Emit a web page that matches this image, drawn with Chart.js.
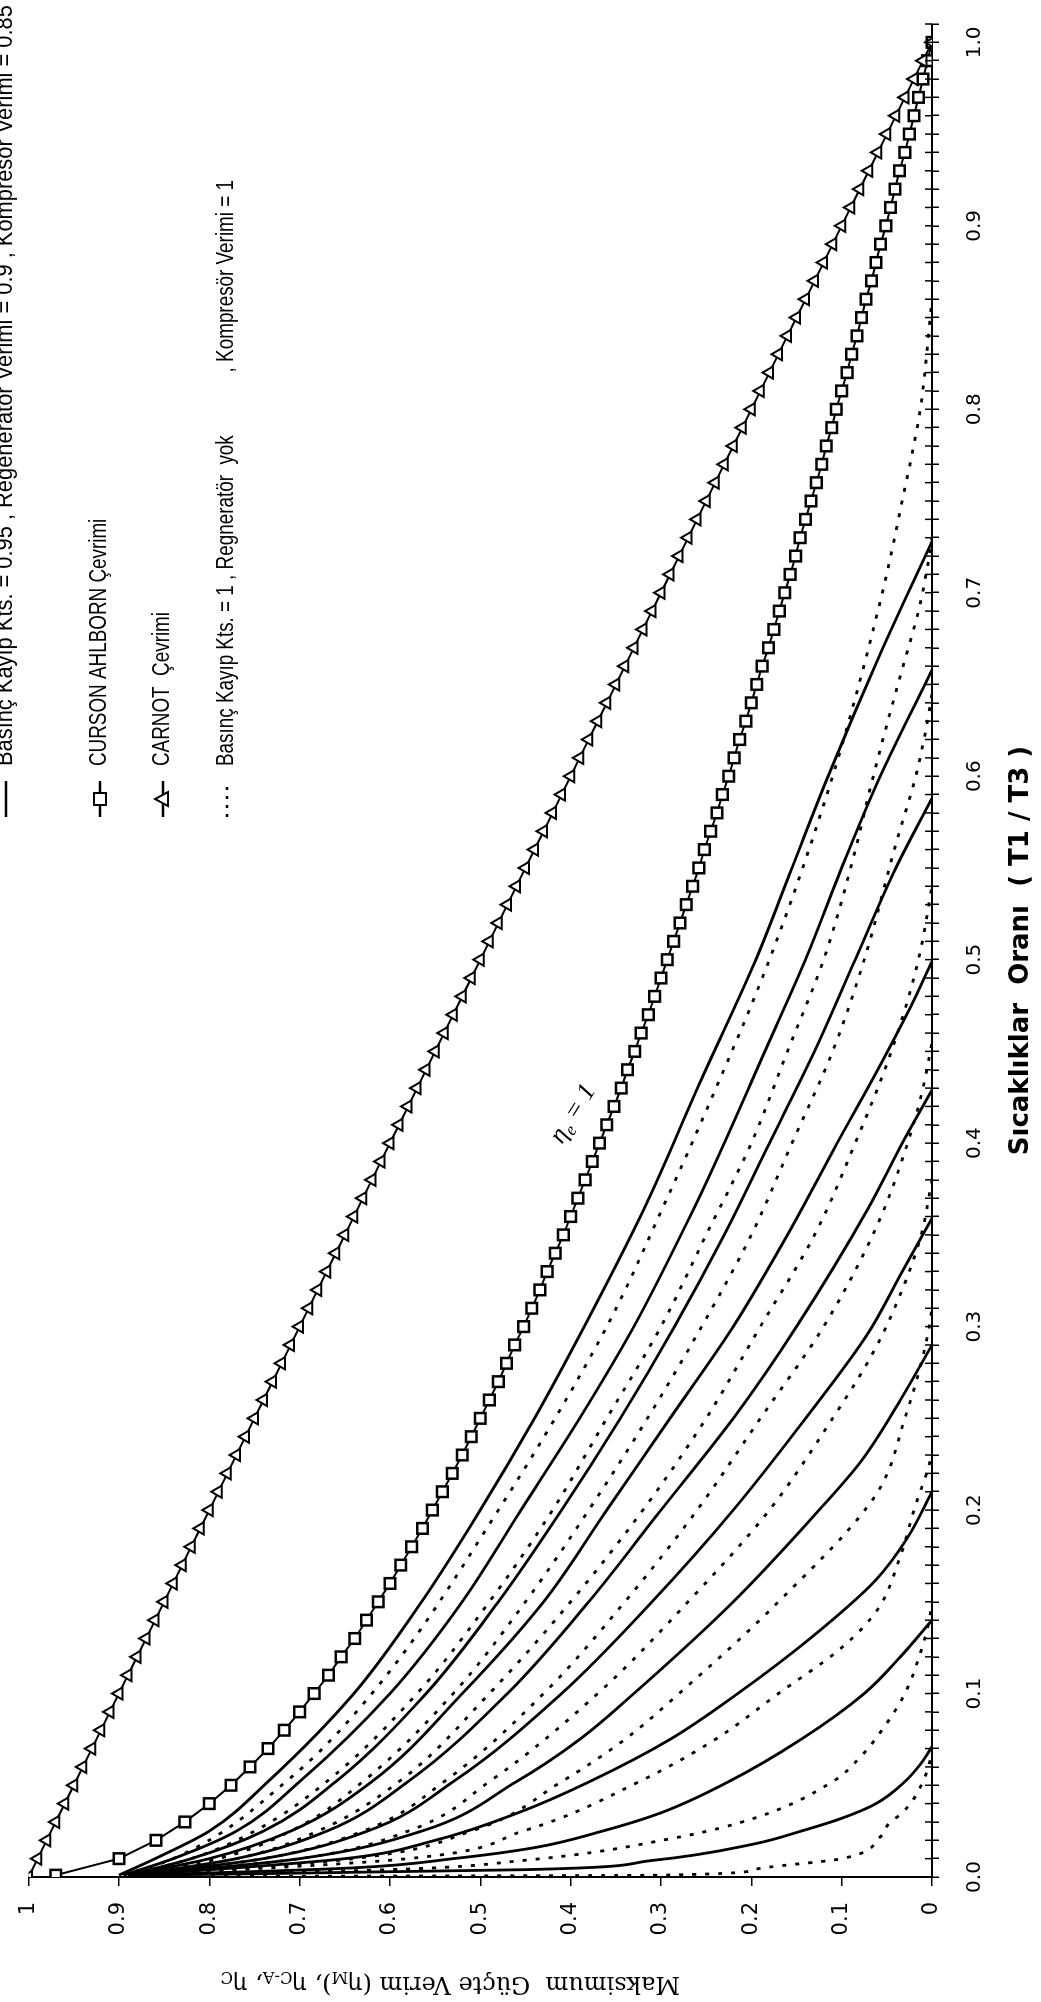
<!DOCTYPE html>
<html>
<head>
<meta charset="utf-8">
<script src="https://cdn.jsdelivr.net/npm/chart.js@4.4.0/dist/chart.umd.min.js"></script>
<style>
html, body { margin: 0; padding: 0; background: #fff; }
body { width: 1041px; height: 2002px; overflow: hidden; position: relative; }
/* the printed page is turned a quarter turn, so the chart is drawn flat and rotated */
#wrap { position: absolute; left: 0; top: 0; width: 2002px; height: 1041px;
        transform-origin: 0 0; transform: translateY(2002px) rotate(-90deg); }
</style>
</head>
<body>
<div id="wrap"><canvas id="verimChart" width="2002" height="1041"></canvas></div>
<script>
"use strict"

// T1/T3 values where the marker series are plotted
const markerRatio = [0.001, 0.01, 0.02, 0.03, 0.04, 0.05, 0.06, 0.07, 0.08, 0.09,
    0.10, 0.11, 0.12, 0.13, 0.14, 0.15, 0.16, 0.17, 0.18, 0.19,
    0.20, 0.21, 0.22, 0.23, 0.24, 0.25, 0.26, 0.27, 0.28, 0.29,
    0.30, 0.31, 0.32, 0.33, 0.34, 0.35, 0.36, 0.37, 0.38, 0.39,
    0.40, 0.41, 0.42, 0.43, 0.44, 0.45, 0.46, 0.47, 0.48, 0.49,
    0.50, 0.51, 0.52, 0.53, 0.54, 0.55, 0.56, 0.57, 0.58, 0.59,
    0.60, 0.61, 0.62, 0.63, 0.64, 0.65, 0.66, 0.67, 0.68, 0.69,
    0.70, 0.71, 0.72, 0.73, 0.74, 0.75, 0.76, 0.77, 0.78, 0.79,
    0.80, 0.81, 0.82, 0.83, 0.84, 0.85, 0.86, 0.87, 0.88, 0.89,
    0.90, 0.91, 0.92, 0.93, 0.94, 0.95, 0.96, 0.97, 0.98, 0.99, 1.00];

const carnotEff = [1.00, 0.99, 0.98, 0.97, 0.96, 0.95, 0.94, 0.93, 0.92, 0.91,
    0.90, 0.89, 0.88, 0.87, 0.86, 0.85, 0.84, 0.83, 0.82, 0.81,
    0.80, 0.79, 0.78, 0.77, 0.76, 0.75, 0.74, 0.73, 0.72, 0.71,
    0.70, 0.69, 0.68, 0.67, 0.66, 0.65, 0.64, 0.63, 0.62, 0.61,
    0.60, 0.59, 0.58, 0.57, 0.56, 0.55, 0.54, 0.53, 0.52, 0.51,
    0.50, 0.49, 0.48, 0.47, 0.46, 0.45, 0.44, 0.43, 0.42, 0.41,
    0.40, 0.39, 0.38, 0.37, 0.36, 0.35, 0.34, 0.33, 0.32, 0.31,
    0.30, 0.29, 0.28, 0.27, 0.26, 0.25, 0.24, 0.23, 0.22, 0.21,
    0.20, 0.19, 0.18, 0.17, 0.16, 0.15, 0.14, 0.13, 0.12, 0.11,
    0.10, 0.09, 0.08, 0.07, 0.06, 0.05, 0.04, 0.03, 0.02, 0.01, 0.00];

const cursonEff = [0.970, 0.900, 0.859, 0.827, 0.800, 0.776, 0.755, 0.735, 0.717, 0.700,
    0.684, 0.668, 0.654, 0.639, 0.626, 0.613, 0.600, 0.588, 0.576, 0.564,
    0.553, 0.542, 0.531, 0.520, 0.510, 0.500, 0.490, 0.480, 0.471, 0.462,
    0.452, 0.443, 0.434, 0.426, 0.417, 0.408, 0.400, 0.392, 0.384, 0.376,
    0.368, 0.360, 0.352, 0.344, 0.337, 0.329, 0.322, 0.314, 0.307, 0.300,
    0.293, 0.286, 0.279, 0.272, 0.265, 0.258, 0.252, 0.245, 0.238, 0.232,
    0.225, 0.219, 0.213, 0.206, 0.200, 0.194, 0.188, 0.181, 0.175, 0.169,
    0.163, 0.157, 0.151, 0.146, 0.140, 0.134, 0.128, 0.122, 0.117, 0.111,
    0.106, 0.100, 0.094, 0.089, 0.083, 0.078, 0.073, 0.067, 0.062, 0.057,
    0.051, 0.046, 0.041, 0.036, 0.030, 0.025, 0.020, 0.015, 0.010, 0.005, 0.000];

// solid curves (with losses): [T1/T3, efficiency] pairs
const solidCurves = [
    [[0.001, 0.87], [0.004, 0.45], [0.009, 0.31], [0.018, 0.197], [0.025, 0.145], [0.032, 0.10], [0.04, 0.062], [0.052, 0.03], [0.062, 0.012], [0.071, 0]],
    [[0.001, 0.875], [0.005, 0.64], [0.01, 0.53], [0.016, 0.44], [0.025, 0.365], [0.035, 0.3], [0.052, 0.225], [0.075, 0.145], [0.1, 0.075], [0.12, 0.035], [0.14, 0]],
    [[0.001, 0.88], [0.01, 0.65], [0.02, 0.55], [0.036, 0.453], [0.052, 0.379], [0.075, 0.29], [0.1, 0.215], [0.13, 0.135], [0.162, 0.062], [0.185, 0.027], [0.21, 0]],
    [[0.001, 0.88], [0.01, 0.7], [0.025, 0.565], [0.052, 0.46], [0.075, 0.39], [0.1, 0.33], [0.15, 0.22], [0.2, 0.125], [0.227, 0.078], [0.26, 0.035], [0.29, 0]],
    [[0.001, 0.885], [0.01, 0.74], [0.025, 0.625], [0.052, 0.53], [0.1, 0.41], [0.15, 0.31], [0.2, 0.22], [0.25, 0.14], [0.297, 0.07], [0.33, 0.033], [0.359, 0]],
    [[0.001, 0.885], [0.01, 0.77], [0.025, 0.67], [0.052, 0.58], [0.1, 0.47], [0.15, 0.38], [0.2, 0.3], [0.25, 0.22], [0.3, 0.15], [0.365, 0.07], [0.4, 0.033], [0.429, 0]],
    [[0.001, 0.89], [0.01, 0.8], [0.025, 0.71], [0.052, 0.62], [0.1, 0.52], [0.15, 0.43], [0.2, 0.36], [0.25, 0.29], [0.3, 0.22], [0.35, 0.16], [0.4, 0.105], [0.44, 0.06], [0.473, 0.025], [0.499, 0]],
    [[0.001, 0.89], [0.01, 0.82], [0.025, 0.74], [0.052, 0.66], [0.1, 0.56], [0.15, 0.48], [0.2, 0.41], [0.25, 0.345], [0.3, 0.285], [0.35, 0.23], [0.4, 0.18], [0.45, 0.13], [0.5, 0.085], [0.55, 0.04], [0.588, 0]],
    [[0.001, 0.895], [0.01, 0.84], [0.025, 0.77], [0.052, 0.7], [0.1, 0.6], [0.15, 0.52], [0.2, 0.455], [0.25, 0.39], [0.3, 0.33], [0.365, 0.263], [0.4, 0.23], [0.45, 0.185], [0.5, 0.14], [0.55, 0.1], [0.597, 0.06], [0.658, 0]],
    [[0.001, 0.9], [0.01, 0.86], [0.025, 0.8], [0.052, 0.735], [0.1, 0.64], [0.15, 0.565], [0.2, 0.5], [0.25, 0.44], [0.3, 0.385], [0.365, 0.318], [0.435, 0.255], [0.5, 0.195], [0.55, 0.155], [0.6, 0.115], [0.667, 0.057], [0.728, 0]]
];

// dotted curves (no pressure loss, no regenerator, ideal compressor)
const dottedCurves = [
    [[0.0002, 0.87], [0.001, 0.30], [0.004, 0.197], [0.01, 0.10], [0.022, 0.057], [0.029, 0.048], [0.035, 0.033], [0.042, 0.021], [0.052, 0.010], [0.06, 0.004], [0.068, 0]],
    [[0.001, 0.87], [0.004, 0.6], [0.009, 0.453], [0.021, 0.288], [0.032, 0.197], [0.052, 0.11], [0.065, 0.08], [0.079, 0.057], [0.1, 0.03], [0.122, 0.013], [0.14, 0.003], [0.15, 0]],
    [[0.001, 0.875], [0.01, 0.58], [0.025, 0.453], [0.052, 0.324], [0.075, 0.24], [0.1, 0.17], [0.125, 0.1], [0.146, 0.06], [0.175, 0.035], [0.203, 0.018], [0.22, 0.006], [0.23, 0]],
    [[0.001, 0.875], [0.01, 0.64], [0.025, 0.51], [0.052, 0.41], [0.075, 0.34], [0.1, 0.28], [0.15, 0.17], [0.21, 0.06], [0.25, 0.03], [0.28, 0.012], [0.3, 0.003], [0.31, 0]],
    [[0.001, 0.88], [0.01, 0.7], [0.025, 0.58], [0.052, 0.49], [0.1, 0.37], [0.15, 0.27], [0.2, 0.18], [0.25, 0.11], [0.286, 0.065], [0.32, 0.033], [0.35, 0.012], [0.38, 0]],
    [[0.001, 0.88], [0.01, 0.74], [0.025, 0.63], [0.052, 0.54], [0.1, 0.43], [0.15, 0.34], [0.2, 0.26], [0.25, 0.19], [0.3, 0.12], [0.356, 0.06], [0.4, 0.027], [0.43, 0.01], [0.455, 0]],
    [[0.001, 0.885], [0.01, 0.77], [0.025, 0.68], [0.052, 0.59], [0.1, 0.49], [0.15, 0.4], [0.2, 0.32], [0.25, 0.25], [0.3, 0.19], [0.35, 0.13], [0.4, 0.085], [0.45, 0.045], [0.5, 0.015], [0.54, 0]],
    [[0.001, 0.885], [0.01, 0.79], [0.025, 0.71], [0.052, 0.63], [0.1, 0.53], [0.15, 0.45], [0.2, 0.38], [0.25, 0.315], [0.3, 0.255], [0.35, 0.2], [0.4, 0.155], [0.45, 0.11], [0.5, 0.075], [0.563, 0.04], [0.6, 0.018], [0.63, 0.005], [0.645, 0]],
    [[0.001, 0.89], [0.01, 0.82], [0.025, 0.75], [0.052, 0.67], [0.1, 0.57], [0.15, 0.49], [0.2, 0.42], [0.25, 0.36], [0.3, 0.3], [0.35, 0.25], [0.4, 0.2], [0.45, 0.16], [0.5, 0.12], [0.55, 0.09], [0.6, 0.065], [0.628, 0.05], [0.66, 0.032], [0.69, 0.015], [0.72, 0.003], [0.73, 0]],
    [[0.001, 0.895], [0.01, 0.84], [0.052, 0.715], [0.1, 0.62], [0.2, 0.48], [0.3, 0.36], [0.367, 0.296], [0.412, 0.255], [0.5, 0.18], [0.6, 0.11], [0.7, 0.055], [0.75, 0.033], [0.8, 0.013], [0.85, 0.002], [0.86, 0]]
];

const effTicks = [0, 0.1, 0.2, 0.3, 0.4, 0.5, 0.6, 0.7, 0.8, 0.9, 1];
const effLabels = ["0", "0.1", "0.2", "0.3", "0.4", "0.5", "0.6", "0.7", "0.8", "0.9", "1"];
const ratioLabels = ["0.0", "0.1", "0.2", "0.3", "0.4", "0.5", "0.6", "0.7", "0.8", "0.9", "1.0"];

const legendLines = [
    "Basınç Kayıp Kts. = 0.95 , Regeneratör Verimi = 0.9 , Kompresör Verimi = 0.85",
    "CURSON AHLBORN Çevrimi",
    "CARNOT  Çevrimi",
    "Basınç Kayıp Kts. = 1 , Regneratör  yok            , Kompresör Verimi = 1"
];

const toPoints = (pairs) => pairs.map(p => ({x: p[0], y: p[1]}));

const datasets = [
    {
        label: "CARNOT Çevrimi",
        data: markerRatio.map((r, i) => ({x: i === 0 ? 0 : r, y: carnotEff[i]})),
        showLine: true,
        borderColor: "#000000",
        borderWidth: 2,
        pointStyle: "triangle",
        pointRadius: 7,
        pointBorderWidth: 2,
        pointBackgroundColor: "#ffffff",
        pointBorderColor: "#000000"
    },
    {
        label: "CURSON AHLBORN Çevrimi",
        data: markerRatio.map((r, i) => ({x: r, y: cursonEff[i]})),
        showLine: true,
        borderColor: "#000000",
        borderWidth: 2,
        pointStyle: "rect",
        pointRadius: 7.5,
        pointBorderWidth: 2.5,
        pointBackgroundColor: "#ffffff",
        pointBorderColor: "#000000"
    }
];

solidCurves.forEach((c, i) => {
    datasets.push({
        label: "solid " + (i + 1),
        data: toPoints(c),
        showLine: true,
        cubicInterpolationMode: "monotone",
        borderColor: "#000000",
        borderWidth: 2.8,
        pointRadius: 0
    });
});

dottedCurves.forEach((c, i) => {
    datasets.push({
        label: "dotted " + (i + 1),
        data: toPoints(c),
        showLine: true,
        cubicInterpolationMode: "monotone",
        borderColor: "#000000",
        borderWidth: 2.8,
        borderDash: [4, 9],
        pointRadius: 0
    });
});

// the ratio axis has crossing ticks, chart.js only draws the outer half
const innerTicks = {
    id: "innerTicks",
    afterDatasetsDraw(chart) {
        const ctx = chart.ctx;
        const xs = chart.scales.x;
        ctx.save();
        ctx.strokeStyle = "#000";
        ctx.lineWidth = 1.5;
        xs.ticks.forEach(t => {
            const px = xs.getPixelForValue(t.value);
            ctx.beginPath();
            ctx.moveTo(px, xs.top);
            ctx.lineTo(px, xs.top - 7);
            ctx.stroke();
        });
        ctx.restore();
    }
};

function drawPieces(ctx, pieces, size, family, style) {
    // measures then draws text with subscripts, centered on 0,0
    let total = 0;
    pieces.forEach(p => {
        ctx.font = style + " " + (p.sub ? size * 0.68 : size) + "px " + family;
        p.w = ctx.measureText(p.t).width;
        total += p.w;
    });
    let x = -total / 2;
    pieces.forEach(p => {
        ctx.font = style + " " + (p.sub ? size * 0.68 : size) + "px " + family;
        ctx.fillText(p.t, x, p.sub ? size * 0.28 : 0);
        x += p.w;
    });
}

const textLayer = {
    id: "textLayer",
    afterDraw(chart) {
        const ctx = chart.ctx;
        const xs = chart.scales.x;
        const ys = chart.scales.y;
        ctx.save();
        ctx.fillStyle = "#000";
        ctx.textBaseline = "middle";
        ctx.textAlign = "left";

        // y axis title, set sideways with subscripts
        ctx.save();
        ctx.translate(19, (ys.top + ys.bottom) / 2 - 30);
        ctx.rotate(-Math.PI / 2);
        drawPieces(ctx, [
            {t: "Maksimum  Güçte Verim (η"}, {t: "M", sub: true}, {t: "), η"},
            {t: "C-A", sub: true}, {t: ", η"}, {t: "C", sub: true}
        ], 24, "'DejaVu Serif', serif", "");
        ctx.restore();

        // eta_e = 1 note next to the Curzon-Ahlborn curve
        ctx.save();
        ctx.translate(xs.getPixelForValue(0.416), ys.getPixelForValue(0.397));
        ctx.rotate(0.56);
        drawPieces(ctx, [{t: "η"}, {t: "e", sub: true}, {t: " = 1"}], 26, "'Liberation Serif', serif", "italic");
        ctx.restore();

        // legend block in the empty upper right corner
        const lx = 1185, tx = 1236;
        const rows = [6, 100, 163, 227];
        ctx.strokeStyle = "#000";
        rows.forEach((v, i) => {
            ctx.lineWidth = 2.5;
            ctx.setLineDash(i === 3 ? [3, 6] : []);
            ctx.beginPath();
            ctx.moveTo(lx, v);
            ctx.lineTo(lx + 36, v);
            ctx.stroke();
            ctx.setLineDash([]);
            if (i === 1) {
                ctx.fillStyle = "#fff";
                ctx.fillRect(lx + 12, v - 6, 12, 12);
                ctx.lineWidth = 2;
                ctx.strokeRect(lx + 12, v - 6, 12, 12);
            }
            if (i === 2) {
                ctx.fillStyle = "#fff";
                ctx.beginPath();
                ctx.moveTo(lx + 18, v - 8);
                ctx.lineTo(lx + 25, v + 5);
                ctx.lineTo(lx + 11, v + 5);
                ctx.closePath();
                ctx.fill();
                ctx.lineWidth = 2;
                ctx.stroke();
            }
            ctx.fillStyle = "#000";
            ctx.save();
            ctx.translate(tx, v);
            // the first line is set in a wider face than the legend rows
            ctx.scale(i === 0 ? 0.95 : 0.82, 1);
            ctx.font = "23px 'Liberation Sans', Arial, sans-serif";
            ctx.fillText(legendLines[i], 0, 0);
            ctx.restore();
        });
        ctx.restore();
    }
};

new Chart(
    document.querySelector("#verimChart"),
    {
        type: "scatter",
        data: {datasets: datasets},
        options: {
            responsive: false,
            animation: false,
            devicePixelRatio: 1,
            layout: {padding: {left: 0, right: 4, top: 22, bottom: 0}},
            plugins: {legend: {display: false}, tooltip: {enabled: false}},
            scales: {
                x: {
                    type: "linear",
                    min: 0,
                    max: 1.01,
                    afterFit: (s) => { s.height = 109; },
                    border: {display: true, color: "#000", width: 2},
                    grid: {display: true, drawOnChartArea: false, drawTicks: true, tickLength: 7, color: "#000", lineWidth: 1.5},
                    ticks: {
                        stepSize: 0.01,
                        maxTicksLimit: 200,
                        autoSkip: false,
                        maxRotation: 0,
                        padding: 24,
                        color: "#000",
                        font: {family: "'DejaVu Sans', sans-serif", size: 20},
                        callback: (v) => {
                            const k = Math.round(v * 100);
                            return k % 10 === 0 ? ratioLabels[k / 10] : "";
                        }
                    },
                    title: {
                        display: true,
                        text: "Sıcaklıklar  Oranı  ( T1 / T3 )",
                        color: "#000",
                        font: {family: "'DejaVu Sans', sans-serif", size: 26, weight: "bold"},
                        padding: {top: 0, bottom: 4}
                    }
                },
                y: {
                    type: "linear",
                    min: 0,
                    max: 1,
                    afterFit: (s) => { s.width = 125; },
                    afterBuildTicks: (s) => { s.ticks = effTicks.map(v => ({value: v})); },
                    border: {display: true, color: "#000", width: 2},
                    grid: {display: true, drawOnChartArea: false, drawTicks: true, tickLength: 9, color: "#000", lineWidth: 1.5},
                    ticks: {
                        padding: 16,
                        color: "#000",
                        font: {family: "'DejaVu Sans', sans-serif", size: 21},
                        callback: (v) => effLabels[Math.round(v * 10)]
                    }
                }
            }
        },
        plugins: [innerTicks, textLayer]
    }
);
</script>
</body>
</html>
